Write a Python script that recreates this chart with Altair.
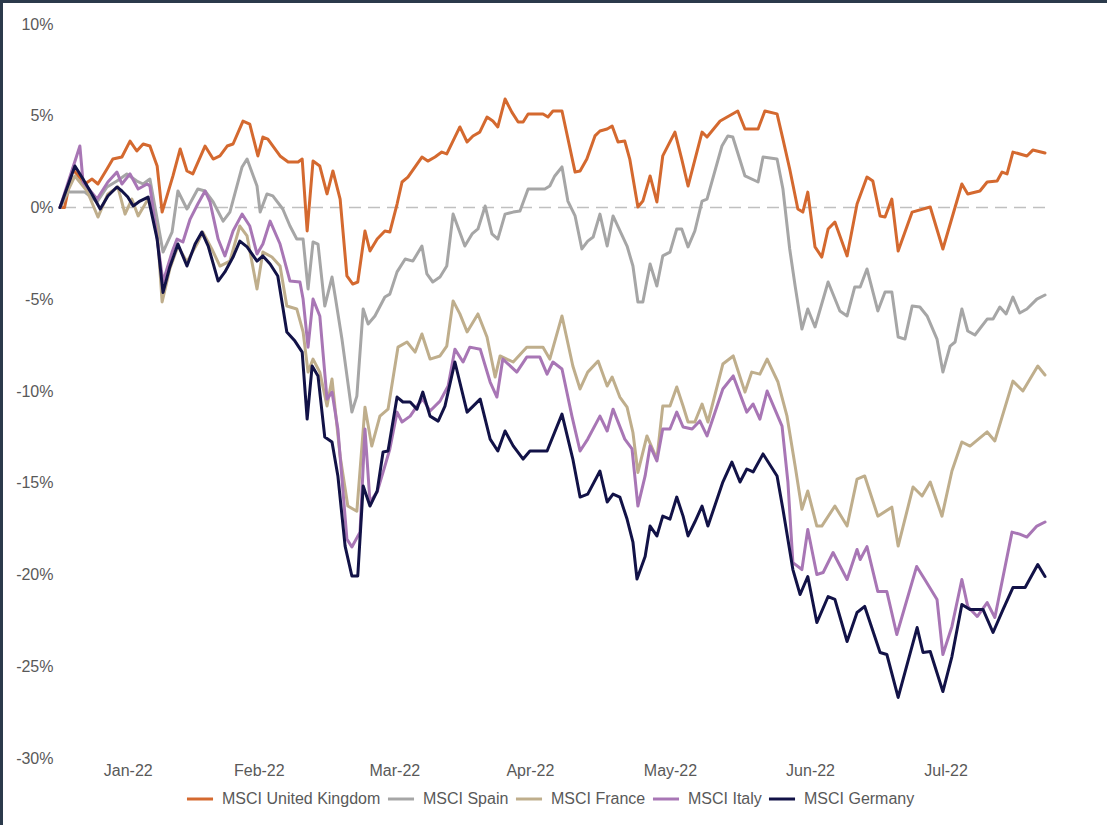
import altair as alt
import pandas as pd

# Day offsets are calendar days after 30 Dec 2021; values are % returns.
START = "2021-12-30"

uk = [(0, 0.0), (1, 0.0), (2.8, 2.1), (5.5, 1.28), (7.1, 1.55), (8.4, 1.28), (10.4, 2.10), (11.7, 2.64), (13.7, 2.75), (15.5, 3.62),
      (17.0, 3.08), (18.4, 3.46), (19.9, 3.35), (21.5, 2.26), (22.6, -0.25), (25.0, 1.72), (26.6, 3.19), (28.1, 1.99), (29.4, 1.83), (32.1, 3.35),
      (33.9, 2.64), (35.4, 2.81), (37.0, 3.35), (38.3, 3.46), (40.5, 4.71), (42.0, 4.55), (43.8, 2.81), (44.9, 3.84), (46.0, 3.73), (48.7, 2.81),
      (50.5, 2.48), (52.7, 2.48), (53.6, 2.64), (54.7, -1.28), (56.0, 2.53), (57.5, 2.26), (59.1, 0.74), (60.4, 1.99), (62.0, 0.46), (63.5, -3.73),
      (64.8, -4.17), (65.9, -4.06), (67.5, -1.28), (68.6, -2.37), (70.2, -1.72), (71.9, -1.28), (73.0, -1.34), (74.6, 0.19), (75.7, 1.39), (77.0, 1.66),
      (80.1, 2.75), (81.4, 2.53), (83.0, 2.75), (84.5, 3.02), (85.6, 2.92), (88.5, 4.39), (90.1, 3.57), (91.4, 3.90), (92.9, 4.11), (94.5, 4.93),
      (95.8, 4.71), (96.9, 4.39), (98.5, 5.91), (100.0, 5.20), (101.4, 4.66), (102.5, 4.66), (103.6, 5.10), (106.9, 5.10), (108.0, 4.93), (109.1, 5.26),
      (111.1, 5.26), (114.0, 1.93), (115.1, 1.99), (116.6, 2.64), (118.4, 3.90), (119.5, 4.17), (121.1, 4.28), (122.2, 4.44), (123.5, 3.57), (125.0, 3.62),
      (126.1, 2.64), (127.9, 0.03), (129.0, 0.35), (130.6, 1.72), (132.1, 0.30), (133.4, 2.81), (136.1, 4.11), (137.6, 2.64), (139.0, 1.17), (142.1, 4.11),
      (143.2, 3.84), (146.1, 4.71), (150.0, 5.26), (151.6, 4.28), (154.5, 4.28), (156.0, 5.26), (158.7, 5.10), (160.0, 3.73), (161.5, 2.10), (163.3, -0.08),
      (164.4, -0.25), (165.5, 0.84), (167.1, -2.15), (168.6, -2.70), (170.0, -1.17), (171.5, -0.79), (174.2, -2.64), (176.4, 0.19), (178.6, 1.66), (179.9, 1.44),
      (181.5, -0.46), (182.6, -0.52), (184.1, 0.46), (185.5, -2.37), (188.6, -0.25), (192.6, 0.03), (195.4, -2.26), (199.6, 1.28), (200.9, 0.74), (203.6, 0.90),
      (205.2, 1.39), (207.4, 1.44), (208.5, 1.93), (209.6, 1.83), (210.9, 3.02), (214.0, 2.81), (215.3, 3.13), (218.0, 2.97)]

spain = [(0, 0.0), (1.8, 0.84), (5.5, 0.84), (8.2, 0.30), (10.4, 1.12), (12.6, 1.44), (14.8, 1.83), (17.0, 1.44), (18.4, 1.28), (19.9, 1.55),
         (21.5, -0.63), (22.8, -2.43), (24.8, -1.34), (26.1, 0.90), (28.1, -0.08), (30.5, 1.01), (32.1, 0.90), (33.9, 0.30), (36.1, -0.74), (37.6, -0.25),
         (40.3, 2.21), (41.4, 2.64), (43.6, 1.17), (44.3, -0.25), (45.8, 0.74), (47.1, 0.63), (49.3, -0.08), (50.9, -1.01), (52.4, -1.72), (53.8, -1.72),
         (54.9, -4.44), (56.0, -1.88), (57.1, -1.99), (58.6, -5.37), (60.2, -3.79), (60.9, -4.83), (62.4, -7.17), (64.6, -11.15), (65.7, -10.28), (67.1, -5.53),
         (68.2, -6.35), (69.7, -5.91), (71.9, -4.88), (73.0, -4.72), (74.6, -3.51), (76.4, -2.81), (78.1, -2.92), (80.1, -2.10), (81.2, -3.62), (82.5, -4.06),
         (84.1, -3.79), (85.6, -3.19), (87.0, -0.36), (89.6, -2.10), (91.2, -1.44), (92.5, -1.17), (94.1, 0.08), (95.6, -1.44), (96.9, -1.72), (98.5, -0.36),
         (100.3, -0.25), (101.8, -0.19), (103.6, 1.01), (107.3, 1.01), (108.4, 1.17), (109.5, 1.72), (111.1, 2.21), (112.4, 0.35), (114.0, -0.46), (115.5, -2.26),
         (116.8, -1.83), (118.0, -1.61), (119.5, -0.36), (121.1, -2.10), (122.4, -0.46), (125.5, -2.10), (126.8, -3.19), (127.9, -5.15), (129.0, -5.15), (130.6, -3.08),
         (132.1, -4.28), (133.4, -2.64), (135.0, -2.43), (136.5, -1.17), (137.6, -1.17), (139.0, -2.15), (140.5, -1.28), (142.1, 0.35), (143.2, 0.46), (146.5, 3.35),
         (147.8, 3.90), (148.9, 3.84), (151.6, 1.72), (154.5, 1.39), (155.6, 2.75), (158.7, 2.64), (160.0, 1.01), (161.5, -2.26), (162.7, -4.28), (164.2, -6.62),
         (165.5, -5.53), (167.1, -6.51), (170.0, -4.06), (172.6, -5.64), (174.2, -5.91), (175.9, -4.33), (177.1, -4.33), (178.6, -3.35), (181.0, -5.64), (182.6, -4.60),
         (184.1, -4.60), (185.5, -7.06), (187.0, -7.17), (188.6, -5.37), (190.3, -5.42), (191.9, -5.91), (194.1, -7.17), (195.4, -8.97), (197.0, -7.55), (198.1, -7.33),
         (199.6, -5.53), (200.9, -6.73), (202.5, -6.95), (205.2, -6.08), (206.5, -6.08), (208.0, -5.42), (209.4, -5.80), (210.9, -4.88), (212.4, -5.75), (214.0, -5.53),
         (216.2, -4.99), (218.0, -4.77)]

france = [(0, 0.0), (3.3, 1.72), (6.0, 0.90), (8.4, -0.52), (10.6, 0.74), (12.8, 1.12), (14.4, -0.36), (15.9, 0.46), (17.3, -0.46), (19.5, 0.46),
          (21.5, -1.17), (22.6, -5.15), (24.3, -3.35), (26.1, -2.10), (28.1, -2.97), (30.3, -1.99), (31.6, -1.34), (33.6, -2.26), (35.4, -3.19), (37.6, -2.92),
          (39.8, -1.01), (41.4, -1.55), (43.6, -4.44), (44.9, -2.43), (46.9, -2.70), (48.7, -3.19), (50.2, -5.37), (52.4, -5.53), (53.8, -6.78), (54.9, -8.97),
          (56.0, -8.26), (57.5, -8.97), (59.1, -10.82), (60.2, -9.35), (62.0, -13.55), (63.7, -16.27), (65.7, -16.55), (67.5, -10.88), (69.0, -13.00), (70.8, -11.37),
          (72.6, -10.99), (74.8, -7.61), (76.8, -7.33), (78.6, -7.88), (80.1, -6.89), (81.9, -8.26), (84.1, -8.09), (85.6, -7.55), (87.0, -5.09), (88.5, -5.80),
          (90.1, -6.78), (92.5, -5.80), (94.5, -7.06), (96.3, -9.24), (97.4, -8.09), (100.3, -8.42), (103.3, -7.61), (106.9, -7.61), (108.4, -8.26), (111.1, -5.91),
          (113.5, -8.64), (115.1, -9.89), (116.8, -8.97), (119.1, -8.37), (121.1, -9.73), (122.2, -9.24), (123.9, -10.33), (125.5, -10.88), (126.8, -12.26), (127.9, -14.44),
          (129.9, -12.45), (132.1, -13.71), (133.4, -10.82), (135.0, -10.82), (136.5, -9.78), (137.9, -10.82), (139.0, -11.69), (140.5, -11.69), (142.1, -10.71), (143.4, -11.69),
          (146.7, -8.53), (149.0, -8.09), (151.6, -10.06), (153.1, -8.97), (154.9, -9.08), (156.5, -8.26), (158.9, -9.51), (160.9, -11.37), (162.7, -14.09), (164.2, -16.44),
          (165.5, -15.45), (167.5, -17.36), (168.6, -17.36), (171.5, -16.27), (174.2, -17.36), (176.4, -14.80), (178.1, -14.63), (181.0, -16.82), (184.1, -16.33), (185.5, -18.45),
          (188.8, -15.23), (190.8, -15.72), (192.6, -14.96), (195.2, -16.82), (197.4, -14.36), (199.6, -12.78), (201.4, -13.00), (205.2, -12.23), (206.9, -12.72), (210.9, -9.46),
          (213.1, -10.00), (216.4, -8.64), (218.0, -9.13)]

italy = [(0, 0.0), (4.4, 3.35), (5.1, 1.39), (8.2, 0.46), (10.6, 1.39), (12.6, 1.93), (13.7, 1.28), (15.5, 1.83), (17.3, 1.01), (19.3, 1.28),
         (19.9, 1.17), (21.5, -1.72), (22.8, -4.06), (24.8, -2.43), (25.9, -1.72), (27.2, -1.88), (28.8, -0.63), (30.5, 0.19), (32.1, 0.90), (33.2, 0.30),
         (35.0, -1.72), (36.5, -2.64), (38.3, -1.28), (40.3, -0.36), (42.0, -1.01), (43.6, -2.53), (44.9, -1.99), (46.5, -0.74), (48.7, -1.99), (50.9, -4.01),
         (53.1, -4.06), (53.8, -4.99), (54.9, -7.61), (56.0, -4.99), (57.5, -5.91), (59.1, -10.44), (60.2, -10.06), (61.5, -12.07), (63.5, -18.07), (64.6, -18.50),
         (66.4, -17.69), (67.5, -12.07), (68.6, -16.05), (70.2, -15.50), (71.9, -14.09), (73.0, -13.16), (74.6, -11.15), (75.7, -11.69), (77.5, -11.37), (79.0, -10.82),
         (80.3, -10.44), (81.9, -11.09), (84.1, -10.55), (85.9, -9.73), (87.4, -7.72), (89.2, -8.42), (90.7, -7.61), (93.0, -7.72), (95.2, -9.51), (96.7, -10.33),
         (98.0, -8.26), (101.1, -8.97), (103.3, -8.15), (106.2, -8.15), (107.8, -9.08), (109.1, -8.42), (111.1, -8.80), (113.3, -11.37), (115.1, -13.27), (116.8, -12.62),
         (119.5, -11.37), (121.1, -12.18), (122.4, -10.99), (125.0, -12.62), (126.6, -13.16), (127.9, -16.27), (129.5, -14.63), (130.6, -12.99), (132.1, -13.81), (133.4, -12.07),
         (135.0, -12.07), (136.5, -11.15), (137.9, -11.96), (139.9, -12.07), (141.6, -11.63), (143.2, -12.45), (146.7, -9.89), (149.0, -9.18), (152.0, -11.15), (153.4, -10.71),
         (154.9, -11.53), (156.5, -10.00), (158.2, -10.99), (159.8, -11.91), (161.1, -14.96), (162.2, -19.35), (164.2, -19.73), (165.5, -17.55), (167.5, -20.00), (168.9, -19.89),
         (171.1, -18.80), (174.2, -20.27), (176.4, -18.64), (177.1, -19.18), (178.6, -18.48), (181.0, -20.93), (183.0, -20.93), (185.2, -23.27), (189.6, -19.56), (191.4, -20.27),
         (194.1, -21.36), (195.4, -24.36), (197.4, -22.83), (199.6, -20.27), (200.9, -21.74), (203.0, -22.29), (205.2, -21.53), (206.9, -22.34), (210.7, -17.69), (212.4, -17.80),
         (214.0, -17.96), (216.2, -17.36), (218.0, -17.14)]

germany = [(0, 0.0), (3.3, 2.26), (5.1, 1.55), (7.3, 0.63), (8.9, -0.08), (10.6, 0.63), (12.6, 1.12), (13.7, 0.90), (15.0, 0.57), (16.2, 0.08),
           (17.7, 0.35), (19.5, 0.57), (21.5, -1.72), (22.8, -4.63), (24.3, -3.24), (26.1, -1.99), (28.1, -3.19), (29.9, -1.99), (31.4, -1.34), (32.8, -2.10),
           (35.0, -4.01), (36.5, -3.51), (38.3, -2.70), (39.8, -1.83), (41.4, -2.15), (43.6, -2.92), (44.9, -2.64), (46.5, -3.08), (48.2, -3.73), (50.2, -6.78),
           (52.0, -7.28), (53.6, -7.88), (54.7, -11.53), (55.8, -8.64), (57.1, -9.18), (58.6, -12.51), (60.2, -12.78), (61.5, -14.63), (63.1, -18.45), (64.6, -20.08),
           (65.9, -20.08), (67.1, -15.18), (68.6, -16.27), (70.2, -15.45), (71.5, -13.32), (72.6, -13.27), (74.6, -10.33), (75.9, -10.60), (77.5, -10.60), (79.0, -10.99),
           (80.3, -10.06), (81.9, -11.37), (83.7, -11.64), (85.2, -10.82), (87.4, -8.42), (90.1, -11.15), (93.0, -10.44), (95.2, -12.62), (96.9, -13.27), (98.5, -12.18),
           (100.3, -12.99), (102.5, -13.71), (104.0, -13.27), (107.8, -13.27), (111.1, -11.26), (113.5, -13.71), (115.1, -15.78), (116.8, -15.62), (119.5, -14.36), (121.1, -16.05),
           (122.4, -15.62), (123.9, -15.78), (125.5, -16.98), (126.8, -18.23), (127.7, -20.25), (129.5, -19.02), (130.6, -17.36), (132.1, -17.90), (133.4, -16.82), (135.0, -16.98),
           (136.5, -15.78), (137.9, -16.82), (139.0, -17.90), (140.5, -17.14), (142.1, -16.27), (143.4, -17.36), (146.7, -14.96), (148.7, -13.87), (150.5, -14.96), (152.0, -14.25),
           (153.4, -14.41), (155.6, -13.43), (158.7, -14.63), (160.0, -16.44), (162.2, -19.73), (163.8, -21.09), (165.5, -20.11), (167.5, -22.62), (170.0, -21.20), (171.5, -21.36),
           (174.2, -23.65), (176.4, -22.07), (178.1, -21.74), (181.5, -24.25), (183.0, -24.36), (185.5, -26.70), (189.7, -22.89), (191.0, -24.25), (192.6, -24.20), (195.4, -26.38),
           (197.4, -24.47), (199.6, -21.63), (201.4, -21.91), (204.3, -21.91), (206.5, -23.16), (208.7, -21.91), (210.9, -20.71), (213.6, -20.71), (216.4, -19.46), (218.0, -20.11)]

series_names = ["MSCI United Kingdom", "MSCI Spain", "MSCI France", "MSCI Italy", "MSCI Germany"]
series_colors = ["#D4692F", "#A6A6A6", "#BFAE8C", "#A876B5", "#121247"]
series_points = [uk, spain, france, italy, germany]

y_ticks = [-0.30, -0.25, -0.20, -0.15, -0.10, -0.05, 0.0, 0.05, 0.10]
x_tick_dates = [(2022, 1, 14), (2022, 2, 12), (2022, 3, 14), (2022, 4, 13), (2022, 5, 14), (2022, 6, 14), (2022, 7, 14)]

base = pd.Timestamp(START)
rows = []
for order, (name, pts) in enumerate(zip(series_names, series_points)):
    for d, v in pts:
        rows.append({
            "series": name,
            "order": order,
            "date": (base + pd.Timedelta(days=d)).strftime("%Y-%m-%dT%H:%M:%S"),
            "value": v / 100.0,
        })
df = pd.DataFrame(rows)

FONT = "Liberation Sans"
LABEL = "#595959"

x_enc = alt.X(
    "date:T",
    scale=alt.Scale(domain=[alt.DateTime(year=2021, month=12, date=30),
                            alt.DateTime(year=2022, month=8, date=5)]),
    axis=alt.Axis(
        values=[alt.DateTime(year=y, month=m, date=d) for (y, m, d) in x_tick_dates],
        format="%b-%y", title=None, domain=False, ticks=False, grid=False,
        labelPadding=4, labelFontSize=16, labelColor=LABEL, labelFont=FONT,
    ),
)
y_enc = alt.Y(
    "value:Q",
    scale=alt.Scale(domain=[-0.30, 0.10], nice=False, zero=False),
    axis=alt.Axis(
        values=y_ticks, labelExpr="round(datum.value * 100) + '%'",
        title=None, domain=False, ticks=False, grid=False,
        labelPadding=7, labelFontSize=16, labelColor=LABEL, labelFont=FONT,
    ),
)

zero = alt.Chart(pd.DataFrame({"value": [0.0]})).mark_rule(
    color="#C0C0C0", strokeWidth=1.3, strokeDash=[12, 7]
).encode(y=alt.Y("value:Q"))

lines = alt.Chart(df).mark_line(strokeWidth=3, strokeJoin="round", strokeCap="round").encode(
    x=x_enc,
    y=y_enc,
    color=alt.Color(
        "series:N",
        scale=alt.Scale(domain=series_names, range=series_colors),
        sort=series_names,
        legend=alt.Legend(
            orient="none", legendX=125, legendY=760, direction="horizontal", columns=5,
            title=None, symbolType="stroke", symbolStrokeWidth=3, symbolSize=680,
            labelFontSize=16, labelColor=LABEL, labelFont=FONT,
            labelOffset=7, columnPadding=0,
        ),
    ),
    order=alt.Order("order:Q"),
)

frame_top = alt.Chart(alt.Data(values=[{"k": 1}])).mark_rule(color="#2B3A4B", strokeWidth=3).encode(
    x=alt.value(-60), x2=alt.value(1047), y=alt.value(-22.5)
)
frame_left = alt.Chart(alt.Data(values=[{"k": 1}])).mark_rule(color="#2B3A4B", strokeWidth=3).encode(
    x=alt.value(-58.5), y=alt.value(-24), y2=alt.value(801)
)

chart = alt.layer(zero, lines, frame_top, frame_left).properties(
    width=985,
    height=734,
    autosize=alt.AutoSizeParams(type="none"),
    padding={"left": 60, "top": 24, "right": 62, "bottom": 67},
    background="white",
).configure_view(stroke=None)

chart.save("out.html", embed_options={"renderer": "svg", "actions": False})
